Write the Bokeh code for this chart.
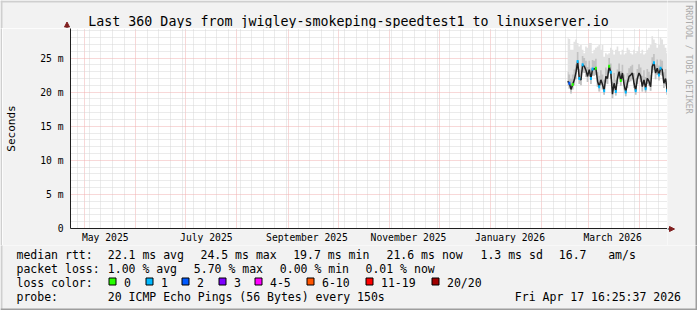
from datetime import datetime
import math
import pandas as pd
from bokeh.plotting import figure
from bokeh.models import Range1d, FixedTicker
from bokeh.layouts import column, row
from bokeh.core.properties import value
from bokeh.embed import file_html
from bokeh.resources import INLINE

# ---------------- data ----------------
title_text = "Last 360 Days from jwigley-smokeping-speedtest1 to linuxserver.io"
x_start = datetime(2025, 4, 22, 16, 25, 37)
x_end = datetime(2026, 4, 17, 16, 25, 37)
y_max = 29.33

y_ticks = [0, 5, 10, 15, 20, 25]
y_tick_labels = ["0", "5 m", "10 m", "15 m", "20 m", "25 m"]
x_label_dates = ["2025-05-13 15:00", "2025-07-13 14:00", "2025-09-12 06:00",
                 "2025-11-12 12:00", "2026-01-12 17:00", "2026-03-15 14:00"]
x_label_texts = ["May 2025", "July 2025", "September 2025",
                 "November 2025", "January 2026", "March 2026"]

first_day = "2026-02-16 12:00"
median_rtt = [21.6, 21.3, 20.4, 21.1, 21.8, 22.9, 24.5, 22.0, 21.8, 24.0,
              23.8, 23.2, 22.3, 23.3, 22.0, 23.4, 23.4, 23.5, 21.6, 20.8,
              21.8, 21.1, 20.2, 22.3, 22.0, 23.8, 22.9, 19.7, 21.3, 20.1,
              22.0, 23.0, 21.7, 22.8, 21.1, 20.0, 21.3, 22.3, 22.5, 22.8,
              21.3, 20.2, 22.0, 22.8, 22.3, 20.8, 21.8, 20.5, 22.0, 21.6,
              20.8, 23.8, 24.3, 22.8, 23.5, 22.5, 23.5, 23.3, 21.3, 22.0, 20.2]
smoke_low = [20.9, 20.5, 19.8, 20.4, 21.0, 21.9, 23.3, 21.2, 21.0, 22.9,
             22.8, 22.2, 21.5, 22.3, 21.2, 22.4, 22.4, 22.5, 20.8, 20.1,
             21.0, 20.4, 19.6, 21.4, 21.2, 22.8, 22.0, 19.1, 20.6, 19.5,
             21.2, 22.0, 20.9, 21.9, 20.4, 19.4, 20.6, 21.5, 21.6, 21.9,
             20.6, 19.6, 21.2, 21.9, 21.5, 20.1, 21.0, 19.9, 21.2, 20.9,
             20.2, 22.8, 23.2, 21.9, 22.5, 21.7, 22.5, 22.4, 20.6, 21.2, 19.6]
smoke_mid = [23.0, 22.6, 22.0, 22.6, 23.3, 24.1, 25.9, 23.4, 23.2, 25.3,
             25.0, 24.6, 23.7, 24.6, 23.5, 24.7, 24.6, 24.9, 23.0, 22.4,
             23.2, 22.6, 21.8, 23.6, 23.3, 25.0, 24.2, 21.5, 22.8, 21.8,
             23.3, 24.2, 23.1, 24.0, 22.6, 21.8, 22.8, 23.5, 23.8, 24.0,
             22.8, 22.0, 23.4, 24.1, 23.6, 22.4, 23.2, 22.2, 23.4, 23.0,
             22.5, 25.1, 25.6, 24.1, 24.8, 23.9, 24.8, 24.6, 22.9, 23.4, 21.9]
smoke_high = [28.0, 27.8, 26.2, 26.2, 27.4, 27.7, 27.2, 26.7, 26.9, 26.2,
              25.7, 26.7, 26.5, 27.2, 27.2, 25.7, 26.2, 26.5, 26.7, 26.9,
              26.2, 26.9, 25.2, 25.7, 25.5, 25.7, 26.5, 26.2, 25.5, 26.2,
              26.7, 26.0, 25.5, 26.2, 25.5, 25.7, 26.5, 26.2, 25.7, 25.5,
              26.2, 25.7, 26.0, 26.7, 25.7, 26.2, 25.5, 25.7, 26.2, 26.5,
              26.9, 28.2, 27.7, 27.2, 26.5, 26.9, 28.0, 27.7, 26.9, 26.5, 25.7]
# days whose median mark shows a loss colour (index into median_rtt, loss bin)
dot_index = [1, 3, 6, 7, 9, 14, 15, 17, 19, 22, 25, 26, 29, 32, 35, 41, 47, 52, 55, 56, 60]
dot_bin = ["2", "0", "1", "1", "1", "1", "1", "0", "1", "1", "0", "1", "1", "0", "1", "1", "1", "1", "1", "1", "1"]

loss_labels = ["0", "1", "2", "3", "4-5", "6-10", "11-19", "20/20"]
loss_colors = ["#26ff00", "#00b8ff", "#0059ff", "#7e00ff", "#ff00ff", "#ff5500", "#ff0000", "#a00000"]
rtt_stats = ["22.1 ms avg", "24.5 ms max", "19.7 ms min", "21.6 ms now", "1.3 ms sd", "16.7", "am/s"]
loss_stats = ["1.00 % avg", "5.70 % max", "0.00 % min", "0.01 % now"]
row_titles = ["median rtt:", "packet loss:", "loss color:", "probe:"]
probe_text = "20 ICMP Echo Pings (56 Bytes) every 150s"
stamp_text = "Fri Apr 17 16:25:37 2026"
watermark = "RRDTOOL / TOBI OETIKER"

# ---------------- layout constants ----------------
W, H = 697, 310
FONT = "DejaVu Sans Mono"
BG = "#F2F2F2"
SHADE_A = "#CFCFCF"
SHADE_B = "#9E9E9E"
ARROW = "#801F1F"
AXIS = "#1F1F1F"
FX0, FX1, FY0, FY1 = 67, 667, 28, 228   # plot frame in page pixels
YB = 245                                 # top of the legend block
TXT_DY = -4.0                            # baseline correction for text glyphs


def no_align(f):
    try:
        f.frame_align = False
    except Exception:
        pass


def tile(x0, y0, w, h):
    """A figure whose frame covers a rectangle of the page, in page pixels."""
    f = figure(width=w, height=h, x_range=Range1d(x0, x0 + w), y_range=Range1d(y0 + h, y0),
               x_axis_type=None, y_axis_type=None, output_backend="svg",
               toolbar_location=None, min_border=0)
    f.min_border_left = f.min_border_right = f.min_border_top = f.min_border_bottom = 0
    f.background_fill_color = BG
    f.border_fill_color = BG
    f.outline_line_color = None
    f.grid.visible = False
    no_align(f)
    return f


def page_text(f, xs, ys, texts, size="11.5px", align="left", color="#000000", angle=0.0,
              baseline="alphabetic"):
    f.text(x=xs, y=[y + TXT_DY for y in ys], text=texts, text_font=value(FONT),
           text_font_size=value(size), text_align=align, text_baseline=baseline,
           text_color=color, angle=angle)


def strips(f, sides):
    spec = {"top": (0, W, 0, 2, SHADE_A), "left": (0, 2, 0, H, SHADE_A),
            "bottom": (0, W, H - 2, H, SHADE_B), "right": (W - 2, W, 0, H, SHADE_B)}
    for s in sides:
        l, r, t, b, c = spec[s]
        f.quad(left=l, right=r, top=t, bottom=b, fill_color=c, line_color=None)


# ---- top strip: title, y-axis arrow ----
T = tile(0, 0, FX1, FY0)
page_text(T, [348], [24.5], [title_text], size="13.3px", align="center")
T.segment(x0=66.5, y0=25, x1=66.5, y1=28, line_color=AXIS, line_width=1)
T.patch(x=[64, 66.5, 69], y=[26.5, 21.5, 26.5], fill_color=ARROW, line_color=ARROW)
strips(T, ["top", "left"])

# ---- left edge beside the plot ----
S = tile(0, FY0, 2, YB - FY0)
strips(S, ["left"])

# ---- main plot ----
days = pd.date_range(first_day, periods=len(median_rtt), freq="D")
to_ms = lambda s: int(pd.Timestamp(s).value // 10**6)
month_starts = pd.date_range("2025-05-01", "2026-04-01", freq="MS")
weeks = pd.date_range("2025-04-27", "2026-04-12", freq="W-SUN")
month_ms = [to_ms(d) for d in month_starts]
week_ms = [to_ms(d) for d in weeks if to_ms(d) not in month_ms]
label_ms = [to_ms(d) for d in x_label_dates]

M = figure(width=FX1 - 2, height=YB - FY0, x_axis_type="datetime", output_backend="svg",
           toolbar_location=None, min_border_left=FX0 - 2, min_border_right=0,
           min_border_top=0, min_border_bottom=YB - FY1,
           x_range=Range1d(x_start, x_end), y_range=Range1d(0, y_max))
M.background_fill_color = "#FFFFFF"
M.border_fill_color = BG
M.outline_line_color = None
no_align(M)

M.xgrid.ticker = FixedTicker(ticks=month_ms, minor_ticks=week_ms)
M.ygrid.ticker = FixedTicker(ticks=[5, 10, 15, 20, 25],
                             minor_ticks=[v for v in range(1, 30) if v % 5])
for g in (M.xgrid, M.ygrid):
    g.grid_line_color = "#F1B0B0"
    g.grid_line_dash = "1 1"
    g.grid_line_width = 1
    g.minor_grid_line_color = "#D6D6D6"
    g.minor_grid_line_dash = "1 1"
    g.minor_grid_line_width = 1

M.xaxis.ticker = FixedTicker(ticks=label_ms)
M.xaxis.major_label_overrides = {k: t for k, t in zip(label_ms, x_label_texts)}
M.yaxis.ticker = FixedTicker(ticks=y_ticks)
M.yaxis.major_label_overrides = {k: t for k, t in zip(y_ticks, y_tick_labels)}
for ax in (M.xaxis, M.yaxis):
    ax.axis_line_color = AXIS
    ax.major_tick_line_color = None
    ax.minor_tick_line_color = None
    ax.major_tick_out = 0
    ax.major_tick_in = 0
    ax.minor_tick_out = 0
    ax.major_label_text_font = FONT
    ax.major_label_text_font_size = "9.7px"
    ax.major_label_text_color = "#000000"
M.xaxis.major_label_standoff = 3
M.yaxis.major_label_standoff = 7
M.yaxis.axis_label = "Seconds"
M.yaxis.axis_label_text_font = FONT
M.yaxis.axis_label_text_font_style = "normal"
M.yaxis.axis_label_text_font_size = "11px"
M.yaxis.axis_label_text_color = "#000000"
M.yaxis.axis_label_standoff = 19

M.varea_step(x=days, y1=smoke_low, y2=smoke_high, step_mode="center", fill_color="#E2E2E2")
M.varea_step(x=days, y1=smoke_low, y2=smoke_mid, step_mode="center", fill_color="#C2C2C2")
M.line(x=days, y=median_rtt, line_color="#202020", line_width=1.5)
color_of = dict(zip(loss_labels, loss_colors))
M.rect(x=[days[i] for i in dot_index], y=[median_rtt[i] for i in dot_index],
       width=2, height=3, width_units="screen", height_units="screen",
       fill_color=[color_of[b] for b in dot_bin], line_color=None)

# ---- right column: x-axis arrow, watermark ----
R = tile(FX1, 0, W - FX1, YB)
R.segment(x0=FX1, y0=228.5, x1=670, y1=228.5, line_color=AXIS, line_width=1)
R.patch(x=[669, 674, 669], y=[226, 228.5, 231], fill_color=ARROW, line_color=ARROW)
page_text(R, [688.5], [59 - TXT_DY], [watermark], size="8.2px", align="center",
          color="#ABABAB", angle=-math.pi / 2, baseline="middle")
strips(R, ["top", "right"])

# ---- legend block ----
B = tile(0, YB, W, H - YB)
row_y = [258.2, 272.5, 286, 300]
page_text(B, [16] * 4, row_y, row_titles)
page_text(B, [107.3, 200, 292.7, 386, 480, 558.3, 607.7], [row_y[0]] * 7, rtt_stats)
page_text(B, [107.3, 193.3, 279.3, 365], [row_y[1]] * 4, loss_stats)
box_x = [108.5, 145.5, 181.5, 218.5, 254.5, 306.5, 365.5, 431.5]
B.quad(left=box_x, right=[x + 7 for x in box_x], top=277.5, bottom=284.5,
       fill_color=loss_colors, line_color="#000000", line_width=1)
page_text(B, [x + 15 for x in box_x], [row_y[2]] * 8, loss_labels)
page_text(B, [107.3], [row_y[3]], [probe_text])
page_text(B, [680.5], [row_y[3]], [stamp_text], align="right")
strips(B, ["left", "right", "bottom"])

layout = column(row(column(T, row(S, M)), R), B)
open("out.html", "w").write(file_html(layout, INLINE))
